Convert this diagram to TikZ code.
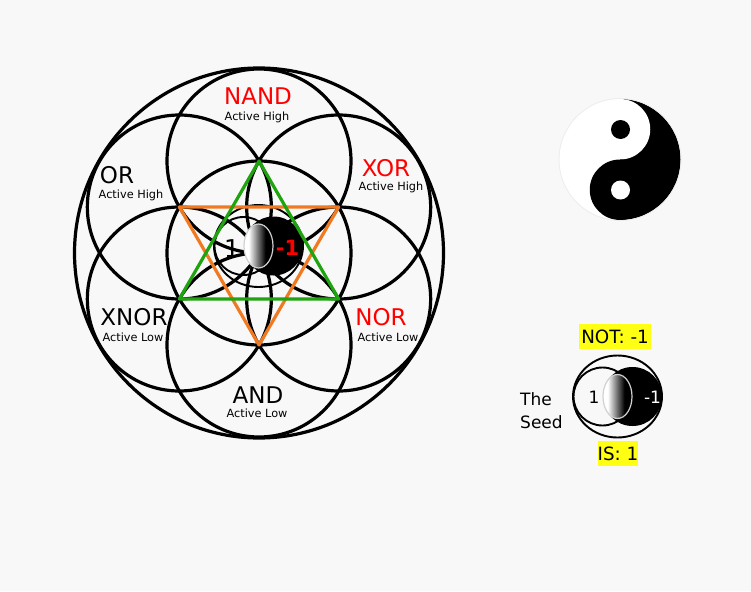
\documentclass[tikz,border=0pt]{standalone}
\usepackage{fontspec}
\setmainfont{DejaVu Sans}
\usetikzlibrary{positioning}
\definecolor{paper}{HTML}{F8F8F8}
\definecolor{stargreen}{HTML}{1FA30F}
\definecolor{starorange}{HTML}{F07A22}
\definecolor{marker}{HTML}{FFFF14}
\pgfdeclarehorizontalshading{lensfade}{100bp}{color(0bp)=(white);color(27bp)=(white);color(33bp)=(white);color(62bp)=(black);color(100bp)=(black)}
\begin{document}
\begin{tikzpicture}[x=1pt,y=-1pt,
  ring/.style={draw=black,line width=3.2pt},
  seedline/.style={draw=black,line width=1.9pt},
  star/.style={line width=3.2pt,line join=round},
  gate/.style={font=\fontsize{23}{23}\selectfont,inner sep=0pt},
  mode/.style={font=\fontsize{11.3}{11.3}\selectfont,inner sep=0pt},
  tagbox/.style={fill=marker,font=\fontsize{18.3}{18.3}\selectfont,inner sep=0pt,minimum height=25pt}]
\fill[paper] (0,0) rectangle (751,591);
\useasboundingbox (0,0) rectangle (751,591);
\coordinate (hub) at (259,253);
% flower
\draw[ring] (hub) ellipse [x radius=184.5,y radius=185];
\draw[ring] (hub) circle [radius=92];
\foreach \a in {30,90,...,330}
  {\coordinate (v\a) at ([shift={(\a:92)}]hub);
   \draw[ring] (v\a) circle [radius=92];}
% seeds
\foreach \name/\sx/\sy in {inner/258.5/246,side/617.5/396.5}
  {\coordinate (\name) at (\sx,\sy);
   \draw[seedline] (\name) ellipse [x radius=44.5,y radius=41];
   \draw[seedline] ([xshift=-15]\name) circle [radius=29];
   \fill[black] ([xshift=15]\name) circle [radius=29.5];
   \shade[shading=lensfade,draw=black!18,line width=1.2pt] (\name) ellipse [x radius=14.5,y radius=22];}
% triangles
\draw[star,starorange] (v210) -- (v330) -- (v90) -- cycle;
\draw[star,stargreen] (v270) -- (v30) -- (v150) -- cycle;
% labels
\node[gate,red] (nand) at (258,96) {NAND};
\node[mode] (nandmode) at (257,117) {Active High};
\node[gate] (or) at (117,175.500) {OR};
\node[mode] (ormode) at (131,195) {Active High};
\node[gate,red] (xor) at (386,168) {XOR};
\node[mode] (xormode) at (391,187) {Active High};
\node[gate] (xnor) at (134,317) {XNOR};
\node[mode] (xnormode) at (133,337) {Active Low};
\node[gate,red] (nor) at (381,317) {NOR};
\node[mode] (normode) at (388,337) {Active Low};
\node[gate] (and) at (258,395) {AND};
\node[mode] (andmode) at (257,413) {Active Low};
\node[gate,font=\fontsize{24.5}{24.5}\selectfont] (one) at (232,249) {1};
\node[gate,red,font=\fontsize{21}{21}\selectfont\bfseries] (minus) at (287.500,248) {-1};
% yin yang
\coordinate (yy) at (620,159.500);
\fill[white] (yy) circle [radius=60.500];
\fill[black] (620,99) arc [start angle=-90,end angle=90,radius=60.500] -- cycle;
\fill[white] (620,129.250) circle [radius=30.250];
\fill[black] (620,189.750) circle [radius=30.250];
\fill[black] (620.500,129.500) circle [radius=9.500];
\fill[white] (620.500,190) circle [radius=9.500];
\draw[black!7,line width=.8pt] (yy) circle [radius=61];
% seed labels
\node[tagbox,minimum width=72pt] (nottag) at (615,336.500) {NOT: -1};
\node[tagbox,minimum width=40pt] (istag) at (618,453.500) {IS: 1};
\node[font=\fontsize{17}{17}\selectfont,inner sep=0pt,right] (the) at (520,399) {The};
\node[font=\fontsize{17}{17}\selectfont,inner sep=0pt,right] (seed) at (520,422) {Seed};
\node[font=\fontsize{17}{17}\selectfont,inner sep=0pt] (sideone) at (594,397) {1};
\node[font=\fontsize{17}{17}\selectfont,inner sep=0pt,white] (sideminus) at (652.500,397) {-1};
\end{tikzpicture}
\end{document}
